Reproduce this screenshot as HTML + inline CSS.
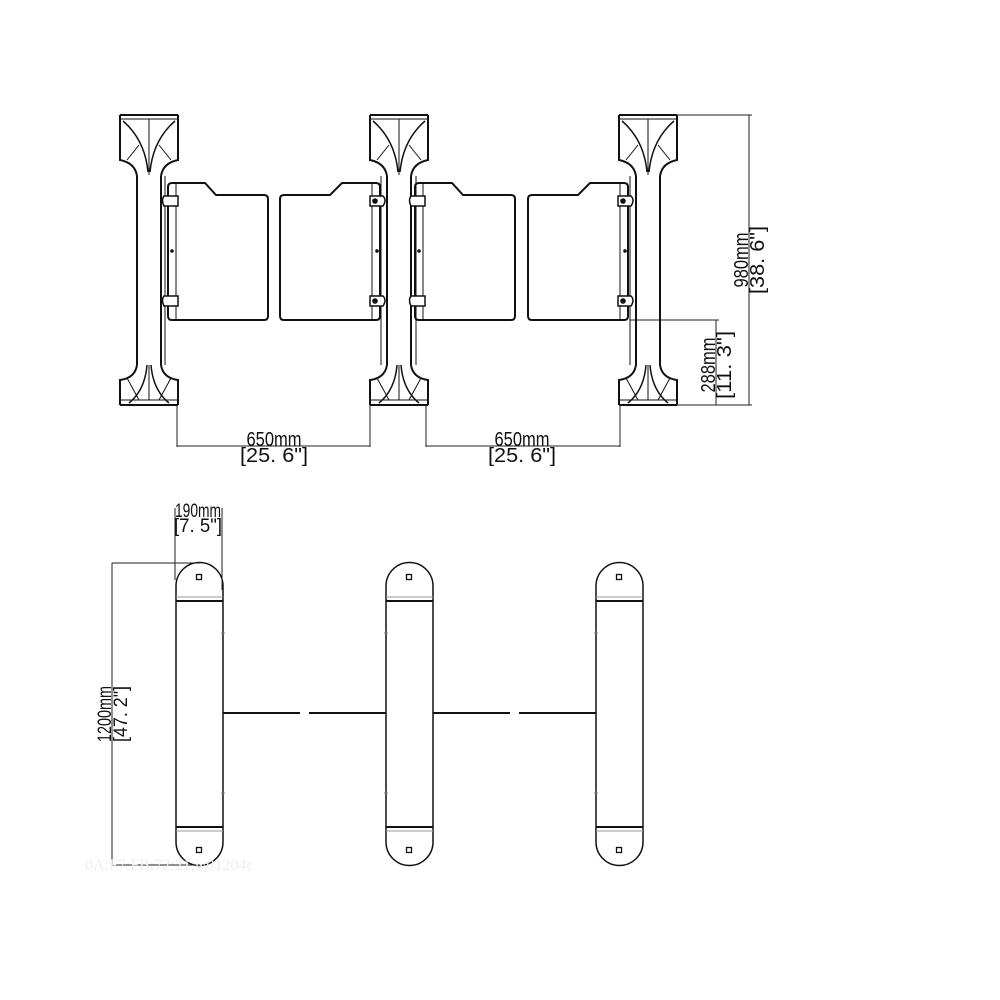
<!DOCTYPE html>
<html><head><meta charset="utf-8"><style>html,body{margin:0;padding:0;background:#fff}svg{display:block}</style></head>
<body>
<svg width="1000" height="1000" viewBox="0 0 1000 1000" xmlns="http://www.w3.org/2000/svg" font-family="Liberation Sans, sans-serif">
<defs>
<g id="pil" fill="none" stroke="#111">
  <line x1="-29" y1="115" x2="29" y2="115" stroke-width="2"/>
  <line x1="-29" y1="119" x2="29" y2="119" stroke-width="1"/>
  <path d="M-29 115 V160 Q-14 163 -12 176 M29 115 V160 Q14 163 12 176" stroke-width="2"/>
  <line x1="0" y1="119" x2="0" y2="175" stroke-width="1"/>
  <path d="M-26 121 Q-4 140 -1 172 M26 121 Q4 140 1 172" stroke-width="1.5"/>
  <path d="M-22 160 L-10 145 M22 160 L10 145" stroke-width="1"/>
  <path d="M-12 176 V365 M12 176 V365" stroke-width="2"/>
  <path d="M-12 365 Q-14 378 -29 380 V405 M12 365 Q14 378 29 380 V405" stroke-width="2"/>
  <line x1="-29" y1="405" x2="29" y2="405" stroke-width="2"/>
  <line x1="-29" y1="400" x2="29" y2="400" stroke-width="1"/>
  <line x1="0" y1="365" x2="0" y2="400" stroke-width="1"/>
  <path d="M-2 365 Q-4 390 -20 403 M2 365 Q4 390 20 403" stroke-width="1.5"/>
  <path d="M-22 378 L-10 400 M22 378 L10 400" stroke-width="1"/>
</g>
<g id="gL" fill="none" stroke="#111">
  <path d="M168 187 Q168 183 172 183 H205 L216 195 H264 Q268 195 268 199 V316 Q268 320 264 320 H172 Q168 320 168 316 Z" stroke-width="2"/>
  <path d="M176 184 V319" stroke-width="1"/>
  <path d="M178 196 H164 Q161 200 164 206 H178 Z M178 296 H164 Q161 300 164 306 H178 Z" stroke-width="1.5" fill="#fff"/>
  <circle cx="172" cy="251" r="1.3" fill="#111"/>
</g>
<g id="gR" fill="none" stroke="#111">
  <path d="M284 195 H330 L342 183 H376 Q380 183 380 187 V316 Q380 320 376 320 H284 Q280 320 280 316 V199 Q280 195 284 195 Z" stroke-width="2"/>
  <path d="M372 184 V319" stroke-width="1"/>
  <path d="M370 196 H383 Q387 200 383 206 H370 Z M370 296 H383 Q387 300 383 306 H370 Z" stroke-width="1.5" fill="#fff"/>
  <circle cx="375" cy="201" r="2.3" fill="#111"/><circle cx="375" cy="301" r="2.3" fill="#111"/>
  <circle cx="377" cy="251" r="1.3" fill="#111"/>
</g>
<g id="bp" fill="none" stroke="#111">
  <path d="M0 586 A23.5 23.5 0 0 1 47 586 V842 A23.5 23.5 0 0 1 0 842 Z" stroke-width="1.5"/>
  <line x1="0" y1="597" x2="47" y2="597" stroke="#999" stroke-width="1"/>
  <line x1="0" y1="601" x2="47" y2="601" stroke-width="2"/>
  <line x1="0" y1="827" x2="47" y2="827" stroke-width="2"/>
  <line x1="0" y1="831" x2="47" y2="831" stroke="#999" stroke-width="1"/>
  <rect x="20.5" y="574.5" width="5" height="5" stroke-width="1.3"/>
  <rect x="20.5" y="847.5" width="5" height="5" stroke-width="1.3"/>
</g>
</defs>

<use href="#pil" x="149"/>
<use href="#pil" x="399"/>
<use href="#pil" x="648"/>
<g stroke="#111" stroke-width="1">
  <line x1="165" y1="176" x2="165" y2="365"/>
  <line x1="381" y1="176" x2="381" y2="365"/>
  <line x1="416" y1="176" x2="416" y2="365"/>
  <line x1="630" y1="176" x2="630" y2="365"/>
</g>
<use href="#gL"/>
<use href="#gR"/>
<use href="#gL" x="247"/>
<use href="#gR" x="248"/>

<g stroke="#222" stroke-width="1" fill="none">
  <line x1="177" y1="405" x2="177" y2="447"/>
  <line x1="370" y1="405" x2="370" y2="447"/>
  <line x1="177" y1="446" x2="370" y2="446"/>
  <line x1="426" y1="405" x2="426" y2="447"/>
  <line x1="620" y1="405" x2="620" y2="447"/>
  <line x1="426" y1="446" x2="620" y2="446"/>
  <line x1="677" y1="115" x2="752" y2="115"/>
  <line x1="677" y1="405" x2="752" y2="405"/>
  <line x1="749" y1="115" x2="749" y2="405"/>
  <line x1="630" y1="320" x2="719" y2="320"/>
  <line x1="716" y1="320" x2="716" y2="405"/>
</g>
<g font-size="20" fill="#111">
  <text x="274" y="446" text-anchor="middle" textLength="55" lengthAdjust="spacingAndGlyphs">650mm</text>
  <text x="274" y="462" text-anchor="middle" textLength="68" lengthAdjust="spacingAndGlyphs">[25. 6"]</text>
  <text x="522" y="446" text-anchor="middle" textLength="55" lengthAdjust="spacingAndGlyphs">650mm</text>
  <text x="522" y="462" text-anchor="middle" textLength="68" lengthAdjust="spacingAndGlyphs">[25. 6"]</text>
  <text transform="translate(748,260) rotate(-90)" text-anchor="middle" textLength="55" lengthAdjust="spacingAndGlyphs">980mm</text>
  <text transform="translate(764,260) rotate(-90)" text-anchor="middle" textLength="68" lengthAdjust="spacingAndGlyphs">[38. 6"]</text>
  <text transform="translate(715,365) rotate(-90)" text-anchor="middle" textLength="55" lengthAdjust="spacingAndGlyphs">288mm</text>
  <text transform="translate(731,365) rotate(-90)" text-anchor="middle" textLength="68" lengthAdjust="spacingAndGlyphs">[11. 3"]</text>
</g>

<use href="#bp" x="176"/>
<use href="#bp" x="386"/>
<use href="#bp" x="596"/>
<g stroke="#111" stroke-width="2">
  <line x1="223" y1="713" x2="300" y2="713"/>
  <line x1="309" y1="713" x2="386" y2="713"/>
  <line x1="433" y1="713" x2="510" y2="713"/>
  <line x1="519" y1="713" x2="596" y2="713"/>
</g>
<g fill="#666">
  <circle cx="223" cy="633" r="1.5"/><circle cx="223" cy="793" r="1.5"/>
  <circle cx="386" cy="633" r="1.5"/><circle cx="386" cy="793" r="1.5"/>
  <circle cx="596" cy="633" r="1.5"/><circle cx="596" cy="793" r="1.5"/>
</g>
<g stroke="#222" stroke-width="1">
  <line x1="175" y1="508" x2="175" y2="580"/>
  <line x1="222" y1="508" x2="222" y2="590"/>
  <line x1="112" y1="563" x2="200" y2="563"/>
  <line x1="112" y1="865" x2="200" y2="865"/>
  <line x1="112" y1="563" x2="112" y2="865"/>
</g>
<g font-size="19" fill="#111">
  <text x="198" y="517" text-anchor="middle" textLength="46" lengthAdjust="spacingAndGlyphs">190mm</text>
  <text x="198" y="532" text-anchor="middle" textLength="48" lengthAdjust="spacingAndGlyphs">[7. 5"]</text>
  <text transform="translate(111,714) rotate(-90)" text-anchor="middle" textLength="56" lengthAdjust="spacingAndGlyphs">1200mm</text>
  <text transform="translate(127,714) rotate(-90)" text-anchor="middle" textLength="56" lengthAdjust="spacingAndGlyphs">[47. 2"]</text>
</g>
<text x="85" y="870" font-family="Liberation Serif, serif" font-size="16" fill="#eee">0A:F7:FB:72:21,w01204c</text>
</svg>
</body></html>
